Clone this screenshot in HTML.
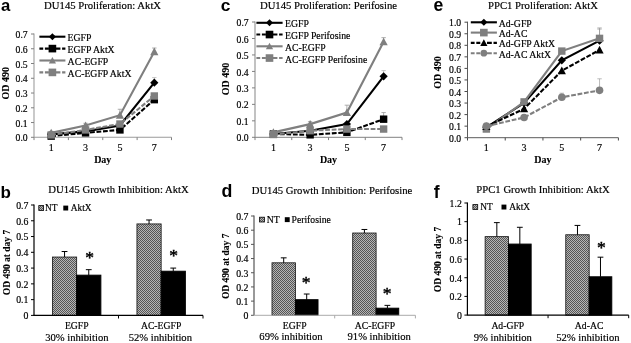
<!DOCTYPE html>
<html><head><meta charset="utf-8"><title>Figure</title>
<style>
html,body{margin:0;padding:0;background:#fff;}
body{width:631px;height:343px;overflow:hidden;font-family:"Liberation Serif",serif;}
svg{display:block;filter:blur(0.3px)}
text{fill:#000;stroke:#000;stroke-width:0.18px}
text[font-weight=bold]{stroke-width:0.08px}
text.pl{stroke:none}
text.st{stroke-width:0.45px}
</style></head><body>
<svg width="631" height="343" viewBox="0 0 631 343">
<rect width="631" height="343" fill="#fff"/>
<defs><pattern id="hatch" width="2" height="2" patternUnits="userSpaceOnUse"><rect width="2" height="2" fill="#b6b6b6"/><rect x="0" y="0" width="1" height="1" fill="#555"/><rect x="1" y="1" width="1" height="1" fill="#555"/></pattern></defs>
<path d="M34 33.5V137.3H171.5" stroke="#9a9a9a" stroke-width="1.05" fill="none"/>
<path d="M31 137.30H34" stroke="#808080" stroke-width="1"/>
<text x="27.70" y="141.40" font-size="9.7" text-anchor="end" font-family='"Liberation Serif", serif' >0.0</text>
<path d="M31 122.54H34" stroke="#808080" stroke-width="1"/>
<text x="27.70" y="126.64" font-size="9.7" text-anchor="end" font-family='"Liberation Serif", serif' >0.1</text>
<path d="M31 107.79H34" stroke="#808080" stroke-width="1"/>
<text x="27.70" y="111.89" font-size="9.7" text-anchor="end" font-family='"Liberation Serif", serif' >0.2</text>
<path d="M31 93.03H34" stroke="#808080" stroke-width="1"/>
<text x="27.70" y="97.13" font-size="9.7" text-anchor="end" font-family='"Liberation Serif", serif' >0.3</text>
<path d="M31 78.27H34" stroke="#808080" stroke-width="1"/>
<text x="27.70" y="82.37" font-size="9.7" text-anchor="end" font-family='"Liberation Serif", serif' >0.4</text>
<path d="M31 63.51H34" stroke="#808080" stroke-width="1"/>
<text x="27.70" y="67.61" font-size="9.7" text-anchor="end" font-family='"Liberation Serif", serif' >0.5</text>
<path d="M31 48.76H34" stroke="#808080" stroke-width="1"/>
<text x="27.70" y="52.86" font-size="9.7" text-anchor="end" font-family='"Liberation Serif", serif' >0.6</text>
<path d="M31 34.00H34" stroke="#808080" stroke-width="1"/>
<text x="27.70" y="38.10" font-size="9.7" text-anchor="end" font-family='"Liberation Serif", serif' >0.7</text>
<path d="M34.00 137.3V140.10000000000002" stroke="#808080" stroke-width="1"/>
<path d="M68.38 137.3V140.10000000000002" stroke="#808080" stroke-width="1"/>
<path d="M102.75 137.3V140.10000000000002" stroke="#808080" stroke-width="1"/>
<path d="M137.12 137.3V140.10000000000002" stroke="#808080" stroke-width="1"/>
<path d="M171.50 137.3V140.10000000000002" stroke="#808080" stroke-width="1"/>
<text x="51.19" y="151.30" font-size="10" text-anchor="middle" font-family='"Liberation Serif", serif' >1</text>
<text x="85.56" y="151.30" font-size="10" text-anchor="middle" font-family='"Liberation Serif", serif' >3</text>
<text x="119.94" y="151.30" font-size="10" text-anchor="middle" font-family='"Liberation Serif", serif' >5</text>
<text x="154.31" y="151.30" font-size="10" text-anchor="middle" font-family='"Liberation Serif", serif' >7</text>
<text x="102.75" y="162.50" font-size="10" text-anchor="middle" font-weight="bold" font-family='"Liberation Serif", serif' >Day</text>
<text transform="translate(9.0,83.2) rotate(-90)" font-size="10" text-anchor="middle" font-weight="bold" font-family='"Liberation Serif", serif'>OD 490</text>
<text x="102.60" y="8.50" font-size="10.7" text-anchor="middle" font-family='"Liberation Serif", serif' >DU145 Proliferation: AktX</text>
<text x="1.00" y="11.10" font-size="16.7" text-anchor="start" font-weight="bold" font-family='"Liberation Sans", sans-serif' class="pl">a</text>
<path d="M154.31 82.70V77.53M152.11 77.53H156.51" stroke="#bbb" stroke-width="0.8" fill="none"/>
<path d="M51.19 134.35L85.56 131.40L119.94 125.49L154.31 82.70" stroke="#000" stroke-width="2.1" fill="none"/>
<path d="M51.19 130.25L55.29 134.35L51.19 138.45L47.09 134.35Z" fill="#000"/>
<path d="M85.56 127.30L89.66 131.40L85.56 135.50L81.46 131.40Z" fill="#000"/>
<path d="M119.94 121.39L124.04 125.49L119.94 129.59L115.84 125.49Z" fill="#000"/>
<path d="M154.31 78.60L158.41 82.70L154.31 86.80L150.21 82.70Z" fill="#000"/>
<path d="M51.19 136.12L85.56 132.87L119.94 129.92L154.31 99.67" stroke="#000" stroke-width="2.1" fill="none" stroke-dasharray="4.8 1.7"/>
<rect x="47.49" y="132.42" width="7.40" height="7.40" fill="#000"/>
<rect x="81.86" y="129.17" width="7.40" height="7.40" fill="#000"/>
<rect x="116.24" y="126.22" width="7.40" height="7.40" fill="#000"/>
<rect x="150.61" y="95.97" width="7.40" height="7.40" fill="#000"/>
<path d="M51.19 132.87V131.40M48.99 131.40H53.39" stroke="#999" stroke-width="0.8" fill="none"/>
<path d="M85.56 125.49V123.28M83.36 123.28H87.76" stroke="#999" stroke-width="0.8" fill="none"/>
<path d="M119.94 115.16V109.26M117.74 109.26H122.14" stroke="#999" stroke-width="0.8" fill="none"/>
<path d="M154.31 51.71V48.02M152.11 48.02H156.51" stroke="#999" stroke-width="0.8" fill="none"/>
<path d="M51.19 132.87L85.56 125.49L119.94 115.16L154.31 51.71" stroke="#7f7f7f" stroke-width="2.1" fill="none"/>
<path d="M51.19 128.77L55.29 136.36L47.09 136.36Z" fill="#7f7f7f"/>
<path d="M85.56 121.39L89.66 128.98L81.46 128.98Z" fill="#7f7f7f"/>
<path d="M119.94 111.06L124.04 118.65L115.84 118.65Z" fill="#7f7f7f"/>
<path d="M154.31 47.61L158.41 55.19L150.21 55.19Z" fill="#7f7f7f"/>
<path d="M51.19 134.94L85.56 129.92L119.94 124.02L154.31 95.98" stroke="#7f7f7f" stroke-width="2.1" fill="none" stroke-dasharray="4.8 1.7"/>
<rect x="47.49" y="131.24" width="7.40" height="7.40" fill="#7f7f7f"/>
<rect x="81.86" y="126.22" width="7.40" height="7.40" fill="#7f7f7f"/>
<rect x="116.24" y="120.32" width="7.40" height="7.40" fill="#7f7f7f"/>
<rect x="150.61" y="92.28" width="7.40" height="7.40" fill="#7f7f7f"/>
<path d="M39.4 36.70H65.4" stroke="#000" stroke-width="2.1" fill="none"/>
<path d="M52.40 33.17L55.93 36.70L52.40 40.23L48.87 36.70Z" fill="#000"/>
<text x="67.60" y="41.20" font-size="9.75" text-anchor="start" font-family='"Liberation Serif", serif' >EGFP</text>
<path d="M39.40 48.60H43.20M44.90 48.60H48.90M55.60 48.60H60.40M62.10 48.60H65.40" stroke="#000" stroke-width="2.1" fill="none"/>
<rect x="48.59" y="44.79" width="7.62" height="7.62" fill="#000"/>
<text x="67.60" y="53.10" font-size="9.75" text-anchor="start" font-family='"Liberation Serif", serif' >EGFP AktX</text>
<path d="M39.4 60.50H65.4" stroke="#7f7f7f" stroke-width="2.1" fill="none"/>
<path d="M52.40 56.89L56.01 63.57L48.79 63.57Z" fill="#7f7f7f"/>
<text x="67.60" y="65.00" font-size="9.75" text-anchor="start" font-family='"Liberation Serif", serif' >AC-EGFP</text>
<path d="M39.40 72.40H43.20M44.90 72.40H48.90M55.60 72.40H60.40M62.10 72.40H65.40" stroke="#7f7f7f" stroke-width="2.1" fill="none"/>
<rect x="48.59" y="68.59" width="7.62" height="7.62" fill="#7f7f7f"/>
<text x="67.60" y="76.90" font-size="9.75" text-anchor="start" font-family='"Liberation Serif", serif' >AC-EGFP AktX</text>
<path d="M255 21.5V137.3H402" stroke="#9a9a9a" stroke-width="1.2" fill="none"/>
<path d="M252 137.30H255" stroke="#808080" stroke-width="1"/>
<text x="248.70" y="141.40" font-size="9.7" text-anchor="end" font-family='"Liberation Serif", serif' >0.0</text>
<path d="M252 120.83H255" stroke="#808080" stroke-width="1"/>
<text x="248.70" y="124.93" font-size="9.7" text-anchor="end" font-family='"Liberation Serif", serif' >0.1</text>
<path d="M252 104.36H255" stroke="#808080" stroke-width="1"/>
<text x="248.70" y="108.46" font-size="9.7" text-anchor="end" font-family='"Liberation Serif", serif' >0.2</text>
<path d="M252 87.89H255" stroke="#808080" stroke-width="1"/>
<text x="248.70" y="91.99" font-size="9.7" text-anchor="end" font-family='"Liberation Serif", serif' >0.3</text>
<path d="M252 71.41H255" stroke="#808080" stroke-width="1"/>
<text x="248.70" y="75.51" font-size="9.7" text-anchor="end" font-family='"Liberation Serif", serif' >0.4</text>
<path d="M252 54.94H255" stroke="#808080" stroke-width="1"/>
<text x="248.70" y="59.04" font-size="9.7" text-anchor="end" font-family='"Liberation Serif", serif' >0.5</text>
<path d="M252 38.47H255" stroke="#808080" stroke-width="1"/>
<text x="248.70" y="42.57" font-size="9.7" text-anchor="end" font-family='"Liberation Serif", serif' >0.6</text>
<path d="M252 22.00H255" stroke="#808080" stroke-width="1"/>
<text x="248.70" y="26.10" font-size="9.7" text-anchor="end" font-family='"Liberation Serif", serif' >0.7</text>
<path d="M255.00 137.3V140.10000000000002" stroke="#808080" stroke-width="1"/>
<path d="M291.75 137.3V140.10000000000002" stroke="#808080" stroke-width="1"/>
<path d="M328.50 137.3V140.10000000000002" stroke="#808080" stroke-width="1"/>
<path d="M365.25 137.3V140.10000000000002" stroke="#808080" stroke-width="1"/>
<path d="M402.00 137.3V140.10000000000002" stroke="#808080" stroke-width="1"/>
<text x="273.38" y="151.30" font-size="10" text-anchor="middle" font-family='"Liberation Serif", serif' >1</text>
<text x="310.12" y="151.30" font-size="10" text-anchor="middle" font-family='"Liberation Serif", serif' >3</text>
<text x="346.88" y="151.30" font-size="10" text-anchor="middle" font-family='"Liberation Serif", serif' >5</text>
<text x="383.62" y="151.30" font-size="10" text-anchor="middle" font-family='"Liberation Serif", serif' >7</text>
<text x="328.50" y="162.50" font-size="10" text-anchor="middle" font-weight="bold" font-family='"Liberation Serif", serif' >Day</text>
<text transform="translate(229,79) rotate(-90)" font-size="10" text-anchor="middle" font-weight="bold" font-family='"Liberation Serif", serif'>OD 490</text>
<text x="328.50" y="8.50" font-size="10.7" text-anchor="middle" font-family='"Liberation Serif", serif' >DU145 Proliferation: Perifosine</text>
<text x="220.70" y="11.20" font-size="17.4" text-anchor="start" font-weight="bold" font-family='"Liberation Sans", sans-serif' class="pl">c</text>
<path d="M383.62 76.36V70.59M381.43 70.59H385.82" stroke="#bbb" stroke-width="0.8" fill="none"/>
<path d="M273.38 134.01L310.12 130.71L346.88 124.12L383.62 76.36" stroke="#000" stroke-width="2.1" fill="none"/>
<path d="M273.38 129.91L277.48 134.01L273.38 138.11L269.27 134.01Z" fill="#000"/>
<path d="M310.12 126.61L314.23 130.71L310.12 134.81L306.02 130.71Z" fill="#000"/>
<path d="M346.88 120.02L350.98 124.12L346.88 128.22L342.77 124.12Z" fill="#000"/>
<path d="M383.62 72.26L387.73 76.36L383.62 80.46L379.52 76.36Z" fill="#000"/>
<path d="M383.62 119.18V112.59M381.43 112.59H385.82" stroke="#999" stroke-width="0.8" fill="none"/>
<path d="M273.38 134.01L310.12 134.83L346.88 132.36L383.62 119.18" stroke="#000" stroke-width="2.1" fill="none" stroke-dasharray="4.8 1.7"/>
<rect x="269.68" y="130.31" width="7.40" height="7.40" fill="#000"/>
<rect x="306.43" y="131.13" width="7.40" height="7.40" fill="#000"/>
<rect x="343.18" y="128.66" width="7.40" height="7.40" fill="#000"/>
<rect x="379.93" y="115.48" width="7.40" height="7.40" fill="#000"/>
<path d="M273.38 132.36V130.71M271.18 130.71H275.57" stroke="#999" stroke-width="0.8" fill="none"/>
<path d="M310.12 124.12V121.65M307.93 121.65H312.32" stroke="#999" stroke-width="0.8" fill="none"/>
<path d="M346.88 112.59V105.18M344.68 105.18H349.07" stroke="#999" stroke-width="0.8" fill="none"/>
<path d="M383.62 41.77V37.65M381.43 37.65H385.82" stroke="#999" stroke-width="0.8" fill="none"/>
<path d="M273.38 132.36L310.12 124.12L346.88 112.59L383.62 41.77" stroke="#7f7f7f" stroke-width="2.1" fill="none"/>
<path d="M273.38 128.26L277.48 135.84L269.27 135.84Z" fill="#7f7f7f"/>
<path d="M310.12 120.02L314.23 127.61L306.02 127.61Z" fill="#7f7f7f"/>
<path d="M346.88 108.49L350.98 116.08L342.77 116.08Z" fill="#7f7f7f"/>
<path d="M383.62 37.67L387.73 45.25L379.52 45.25Z" fill="#7f7f7f"/>
<path d="M273.38 134.50L310.12 130.71L346.88 129.06L383.62 129.06" stroke="#7f7f7f" stroke-width="2.1" fill="none" stroke-dasharray="4.8 1.7"/>
<rect x="269.68" y="130.80" width="7.40" height="7.40" fill="#7f7f7f"/>
<rect x="306.43" y="127.01" width="7.40" height="7.40" fill="#7f7f7f"/>
<rect x="343.18" y="125.36" width="7.40" height="7.40" fill="#7f7f7f"/>
<rect x="379.93" y="125.36" width="7.40" height="7.40" fill="#7f7f7f"/>
<path d="M256.4 22.80H282.6" stroke="#000" stroke-width="2.1" fill="none"/>
<path d="M269.50 19.27L273.03 22.80L269.50 26.33L265.97 22.80Z" fill="#000"/>
<text x="285.00" y="27.30" font-size="9.75" text-anchor="start" font-family='"Liberation Serif", serif' >EGFP</text>
<path d="M256.40 34.55H260.20M261.90 34.55H265.90M272.60 34.55H277.40M279.10 34.55H282.60" stroke="#000" stroke-width="2.1" fill="none"/>
<rect x="265.69" y="30.74" width="7.62" height="7.62" fill="#000"/>
<text x="285.00" y="39.05" font-size="9.75" text-anchor="start" font-family='"Liberation Serif", serif' >EGFP Perifosine</text>
<path d="M256.4 46.30H282.6" stroke="#7f7f7f" stroke-width="2.1" fill="none"/>
<path d="M269.50 42.69L273.11 49.37L265.89 49.37Z" fill="#7f7f7f"/>
<text x="285.00" y="50.80" font-size="9.75" text-anchor="start" font-family='"Liberation Serif", serif' >AC-EGFP</text>
<path d="M256.40 58.05H260.20M261.90 58.05H265.90M272.60 58.05H277.40M279.10 58.05H282.60" stroke="#7f7f7f" stroke-width="2.1" fill="none"/>
<rect x="265.69" y="54.24" width="7.62" height="7.62" fill="#7f7f7f"/>
<text x="285.00" y="62.55" font-size="9.75" text-anchor="start" font-family='"Liberation Serif", serif' >AC-EGFP Perifosine</text>
<path d="M467.5 21.7V137.7H618.4" stroke="#4a4a4a" stroke-width="0.9" fill="none"/>
<path d="M464.5 137.70H467.5" stroke="#4a4a4a" stroke-width="1"/>
<text x="461.20" y="141.80" font-size="9.7" text-anchor="end" font-family='"Liberation Serif", serif' >0.0</text>
<path d="M464.5 126.15H467.5" stroke="#4a4a4a" stroke-width="1"/>
<text x="461.20" y="130.25" font-size="9.7" text-anchor="end" font-family='"Liberation Serif", serif' >0.1</text>
<path d="M464.5 114.60H467.5" stroke="#4a4a4a" stroke-width="1"/>
<text x="461.20" y="118.70" font-size="9.7" text-anchor="end" font-family='"Liberation Serif", serif' >0.2</text>
<path d="M464.5 103.05H467.5" stroke="#4a4a4a" stroke-width="1"/>
<text x="461.20" y="107.15" font-size="9.7" text-anchor="end" font-family='"Liberation Serif", serif' >0.3</text>
<path d="M464.5 91.50H467.5" stroke="#4a4a4a" stroke-width="1"/>
<text x="461.20" y="95.60" font-size="9.7" text-anchor="end" font-family='"Liberation Serif", serif' >0.4</text>
<path d="M464.5 79.95H467.5" stroke="#4a4a4a" stroke-width="1"/>
<text x="461.20" y="84.05" font-size="9.7" text-anchor="end" font-family='"Liberation Serif", serif' >0.5</text>
<path d="M464.5 68.40H467.5" stroke="#4a4a4a" stroke-width="1"/>
<text x="461.20" y="72.50" font-size="9.7" text-anchor="end" font-family='"Liberation Serif", serif' >0.6</text>
<path d="M464.5 56.85H467.5" stroke="#4a4a4a" stroke-width="1"/>
<text x="461.20" y="60.95" font-size="9.7" text-anchor="end" font-family='"Liberation Serif", serif' >0.7</text>
<path d="M464.5 45.30H467.5" stroke="#4a4a4a" stroke-width="1"/>
<text x="461.20" y="49.40" font-size="9.7" text-anchor="end" font-family='"Liberation Serif", serif' >0.8</text>
<path d="M464.5 33.75H467.5" stroke="#4a4a4a" stroke-width="1"/>
<text x="461.20" y="37.85" font-size="9.7" text-anchor="end" font-family='"Liberation Serif", serif' >0.9</text>
<path d="M464.5 22.20H467.5" stroke="#4a4a4a" stroke-width="1"/>
<text x="461.20" y="26.30" font-size="9.7" text-anchor="end" font-family='"Liberation Serif", serif' >1.0</text>
<path d="M467.50 137.7V140.5" stroke="#4a4a4a" stroke-width="1"/>
<path d="M505.23 137.7V140.5" stroke="#4a4a4a" stroke-width="1"/>
<path d="M542.95 137.7V140.5" stroke="#4a4a4a" stroke-width="1"/>
<path d="M580.67 137.7V140.5" stroke="#4a4a4a" stroke-width="1"/>
<path d="M618.40 137.7V140.5" stroke="#4a4a4a" stroke-width="1"/>
<text x="486.36" y="151.30" font-size="10" text-anchor="middle" font-family='"Liberation Serif", serif' >1</text>
<text x="524.09" y="151.30" font-size="10" text-anchor="middle" font-family='"Liberation Serif", serif' >3</text>
<text x="561.81" y="151.30" font-size="10" text-anchor="middle" font-family='"Liberation Serif", serif' >5</text>
<text x="599.54" y="151.30" font-size="10" text-anchor="middle" font-family='"Liberation Serif", serif' >7</text>
<text x="542.95" y="162.50" font-size="10" text-anchor="middle" font-weight="bold" font-family='"Liberation Serif", serif' >Day</text>
<text transform="translate(441.2,72.5) rotate(-90)" font-size="10" text-anchor="middle" font-weight="bold" font-family='"Liberation Serif", serif'>OD 490</text>
<text x="543.00" y="8.50" font-size="10.7" text-anchor="middle" font-family='"Liberation Serif", serif' >PPC1 Proliferation: AktX</text>
<text x="433.60" y="11.40" font-size="17.6" text-anchor="start" font-weight="bold" font-family='"Liberation Sans", sans-serif' class="pl">e</text>
<path d="M599.54 40.68V29.13M597.34 29.13H601.74" stroke="#aaa" stroke-width="0.8" fill="none"/>
<path d="M486.36 127.30L524.09 103.05L561.81 60.31L599.54 40.68" stroke="#000" stroke-width="2.1" fill="none"/>
<path d="M486.36 123.20L490.46 127.30L486.36 131.41L482.26 127.30Z" fill="#000"/>
<path d="M524.09 98.95L528.19 103.05L524.09 107.15L519.99 103.05Z" fill="#000"/>
<path d="M561.81 56.21L565.91 60.31L561.81 64.41L557.71 60.31Z" fill="#000"/>
<path d="M599.54 36.58L603.64 40.68L599.54 44.78L595.44 40.68Z" fill="#000"/>
<path d="M599.54 38.37V27.98M597.34 27.98H601.74" stroke="#999" stroke-width="0.8" fill="none"/>
<path d="M486.36 129.04L524.09 101.89L561.81 51.08L599.54 38.37" stroke="#7f7f7f" stroke-width="2.1" fill="none"/>
<rect x="482.66" y="125.34" width="7.40" height="7.40" fill="#7f7f7f"/>
<rect x="520.39" y="98.19" width="7.40" height="7.40" fill="#7f7f7f"/>
<rect x="558.11" y="47.38" width="7.40" height="7.40" fill="#7f7f7f"/>
<rect x="595.84" y="34.67" width="7.40" height="7.40" fill="#7f7f7f"/>
<path d="M486.36 126.61L524.09 108.82L561.81 70.71L599.54 49.92" stroke="#000" stroke-width="2.1" fill="none" stroke-dasharray="4.8 1.7"/>
<path d="M486.36 122.51L490.46 130.10L482.26 130.10Z" fill="#000"/>
<path d="M524.09 104.72L528.19 112.31L519.99 112.31Z" fill="#000"/>
<path d="M561.81 66.61L565.91 74.20L557.71 74.20Z" fill="#000"/>
<path d="M599.54 45.82L603.64 53.41L595.44 53.41Z" fill="#000"/>
<path d="M561.81 97.28V93.23M559.61 93.23H564.01" stroke="#aaa" stroke-width="0.8" fill="none"/>
<path d="M599.54 90.34V78.79M597.34 78.79H601.74" stroke="#aaa" stroke-width="0.8" fill="none"/>
<path d="M486.36 126.15L524.09 117.49L561.81 97.28L599.54 90.34" stroke="#7f7f7f" stroke-width="2.1" fill="none" stroke-dasharray="4.8 1.7"/>
<circle cx="486.36" cy="126.15" r="3.80" fill="#7f7f7f"/>
<circle cx="524.09" cy="117.49" r="3.80" fill="#7f7f7f"/>
<circle cx="561.81" cy="97.28" r="3.80" fill="#7f7f7f"/>
<circle cx="599.54" cy="90.34" r="3.80" fill="#7f7f7f"/>
<path d="M470.8 22.30H496.9" stroke="#000" stroke-width="2.1" fill="none"/>
<path d="M483.85 18.77L487.38 22.30L483.85 25.83L480.32 22.30Z" fill="#000"/>
<text x="498.70" y="26.80" font-size="9.75" text-anchor="start" font-family='"Liberation Serif", serif' >Ad-GFP</text>
<path d="M470.8 32.60H496.9" stroke="#7f7f7f" stroke-width="2.1" fill="none"/>
<rect x="480.04" y="28.79" width="7.62" height="7.62" fill="#7f7f7f"/>
<text x="498.70" y="37.10" font-size="9.75" text-anchor="start" font-family='"Liberation Serif", serif' >Ad-AC</text>
<path d="M470.80 42.90H474.60M476.30 42.90H480.30M487.00 42.90H491.80M493.50 42.90H496.90" stroke="#000" stroke-width="2.1" fill="none"/>
<path d="M483.85 39.29L487.46 45.97L480.24 45.97Z" fill="#000"/>
<text x="498.70" y="47.40" font-size="9.75" text-anchor="start" font-family='"Liberation Serif", serif' >Ad-GFP AktX</text>
<path d="M470.80 53.20H474.60M476.30 53.20H480.30M487.00 53.20H491.80M493.50 53.20H496.90" stroke="#7f7f7f" stroke-width="2.1" fill="none"/>
<circle cx="483.85" cy="53.20" r="3.34" fill="#7f7f7f"/>
<text x="498.70" y="57.70" font-size="9.75" text-anchor="start" font-family='"Liberation Serif", serif' >Ad-AC AktX</text>
<path d="M34 204.5V315.4" stroke="#000" stroke-width="1.2" fill="none"/>
<path d="M31 315.40H34" stroke="#000" stroke-width="1"/>
<text x="28.40" y="319.20" font-size="9.8" text-anchor="end" font-family='"Liberation Serif", serif' >0</text>
<path d="M31 299.63H34" stroke="#000" stroke-width="1"/>
<text x="28.40" y="303.43" font-size="9.8" text-anchor="end" font-family='"Liberation Serif", serif' >0.1</text>
<path d="M31 283.86H34" stroke="#000" stroke-width="1"/>
<text x="28.40" y="287.66" font-size="9.8" text-anchor="end" font-family='"Liberation Serif", serif' >0.2</text>
<path d="M31 268.09H34" stroke="#000" stroke-width="1"/>
<text x="28.40" y="271.89" font-size="9.8" text-anchor="end" font-family='"Liberation Serif", serif' >0.3</text>
<path d="M31 252.31H34" stroke="#000" stroke-width="1"/>
<text x="28.40" y="256.11" font-size="9.8" text-anchor="end" font-family='"Liberation Serif", serif' >0.4</text>
<path d="M31 236.54H34" stroke="#000" stroke-width="1"/>
<text x="28.40" y="240.34" font-size="9.8" text-anchor="end" font-family='"Liberation Serif", serif' >0.5</text>
<path d="M31 220.77H34" stroke="#000" stroke-width="1"/>
<text x="28.40" y="224.57" font-size="9.8" text-anchor="end" font-family='"Liberation Serif", serif' >0.6</text>
<path d="M31 205.00H34" stroke="#000" stroke-width="1"/>
<text x="28.40" y="208.80" font-size="9.8" text-anchor="end" font-family='"Liberation Serif", serif' >0.7</text>
<rect x="52.45" y="257.05" width="24.20" height="58.35" fill="url(#hatch)" stroke="#1a1a1a" stroke-width="0.85"/>
<path d="M64.55 257.05V251.53M61.65 251.53H67.45" stroke="#000" stroke-width="1" fill="none"/>
<rect x="76.65" y="275.18" width="24.20" height="40.22" fill="#000" stroke="#000" stroke-width="1"/>
<path d="M88.75 275.18V269.66M85.85 269.66H91.65" stroke="#000" stroke-width="1" fill="none"/>
<text x="89.50" y="263.30" font-size="17.5" text-anchor="middle" font-family='"Liberation Serif", serif' class="st">*</text>
<text x="76.80" y="328.70" font-size="9.7" text-anchor="middle" font-family='"Liberation Serif", serif' >EGFP</text>
<text x="76.90" y="340.50" font-size="10.6" text-anchor="middle" font-family='"Liberation Serif", serif' >30% inhibition</text>
<rect x="136.95" y="223.93" width="24.20" height="91.47" fill="url(#hatch)" stroke="#1a1a1a" stroke-width="0.85"/>
<path d="M149.05 223.93V219.98M146.15 219.98H151.95" stroke="#000" stroke-width="1" fill="none"/>
<rect x="161.15" y="271.24" width="24.20" height="44.16" fill="#000" stroke="#000" stroke-width="1"/>
<path d="M173.25 271.24V268.09M170.35 268.09H176.15" stroke="#000" stroke-width="1" fill="none"/>
<text x="173.50" y="261.30" font-size="17.5" text-anchor="middle" font-family='"Liberation Serif", serif' class="st">*</text>
<text x="161.10" y="328.70" font-size="9.7" text-anchor="middle" font-family='"Liberation Serif", serif' >AC-EGFP</text>
<text x="160.30" y="340.50" font-size="10.6" text-anchor="middle" font-family='"Liberation Serif", serif' >52% inhibition</text>
<path d="M33.5 315.4H203" stroke="#000" stroke-width="1.2" fill="none"/>
<path d="M118.50 315.4V318.5" stroke="#000" stroke-width="1"/>
<path d="M203.00 315.4V318.5" stroke="#000" stroke-width="1"/>
<text transform="translate(9.9,262.5) rotate(-90)" font-size="9.5" text-anchor="middle" font-weight="bold" font-family='"Liberation Serif", serif'>OD 490 at day 7</text>
<text x="118.50" y="192.60" font-size="10.7" text-anchor="middle" font-family='"Liberation Serif", serif' >DU145 Growth Inhibition: AktX</text>
<text x="0.60" y="198.20" font-size="17" text-anchor="start" font-weight="bold" font-family='"Liberation Sans", sans-serif' class="pl">b</text>
<rect x="38.8" y="205.6" width="4.8" height="4.8" fill="url(#hatch)" stroke="#000" stroke-width="0.8"/>
<text x="45.00" y="211.20" font-size="9.4" text-anchor="start" font-family='"Liberation Serif", serif' >NT</text>
<rect x="63.3" y="205.6" width="4.9" height="4.9" fill="#000"/>
<text x="70.80" y="211.20" font-size="9.4" text-anchor="start" font-family='"Liberation Serif", serif' >AktX</text>
<path d="M254 215.5V315.3" stroke="#555" stroke-width="1.2" fill="none"/>
<path d="M251 315.30H254" stroke="#555" stroke-width="1"/>
<text x="248.40" y="319.10" font-size="9.8" text-anchor="end" font-family='"Liberation Serif", serif' >0</text>
<path d="M251 301.11H254" stroke="#555" stroke-width="1"/>
<text x="248.40" y="304.91" font-size="9.8" text-anchor="end" font-family='"Liberation Serif", serif' >0.1</text>
<path d="M251 286.93H254" stroke="#555" stroke-width="1"/>
<text x="248.40" y="290.73" font-size="9.8" text-anchor="end" font-family='"Liberation Serif", serif' >0.2</text>
<path d="M251 272.74H254" stroke="#555" stroke-width="1"/>
<text x="248.40" y="276.54" font-size="9.8" text-anchor="end" font-family='"Liberation Serif", serif' >0.3</text>
<path d="M251 258.56H254" stroke="#555" stroke-width="1"/>
<text x="248.40" y="262.36" font-size="9.8" text-anchor="end" font-family='"Liberation Serif", serif' >0.4</text>
<path d="M251 244.37H254" stroke="#555" stroke-width="1"/>
<text x="248.40" y="248.17" font-size="9.8" text-anchor="end" font-family='"Liberation Serif", serif' >0.5</text>
<path d="M251 230.19H254" stroke="#555" stroke-width="1"/>
<text x="248.40" y="233.99" font-size="9.8" text-anchor="end" font-family='"Liberation Serif", serif' >0.6</text>
<path d="M251 216.00H254" stroke="#555" stroke-width="1"/>
<text x="248.40" y="219.80" font-size="9.8" text-anchor="end" font-family='"Liberation Serif", serif' >0.7</text>
<rect x="272.00" y="262.81" width="23.40" height="52.49" fill="url(#hatch)" stroke="#1a1a1a" stroke-width="0.85"/>
<path d="M283.70 262.81V257.85M280.80 257.85H286.60" stroke="#000" stroke-width="1" fill="none"/>
<rect x="295.40" y="299.70" width="22.60" height="15.60" fill="#000" stroke="#000" stroke-width="1"/>
<path d="M306.70 299.70V294.02M303.80 294.02H309.60" stroke="#000" stroke-width="1" fill="none"/>
<text x="306.00" y="288.30" font-size="17.5" text-anchor="middle" font-family='"Liberation Serif", serif' class="st">*</text>
<text x="294.70" y="328.60" font-size="9.7" text-anchor="middle" font-family='"Liberation Serif", serif' >EGFP</text>
<text x="291.00" y="340.40" font-size="10.6" text-anchor="middle" font-family='"Liberation Serif", serif' >69% inhibition</text>
<rect x="352.70" y="233.02" width="23.40" height="82.28" fill="url(#hatch)" stroke="#1a1a1a" stroke-width="0.85"/>
<path d="M364.40 233.02V229.48M361.50 229.48H367.30" stroke="#000" stroke-width="1" fill="none"/>
<rect x="376.10" y="308.21" width="22.60" height="7.09" fill="#000" stroke="#000" stroke-width="1"/>
<path d="M387.40 308.21V305.37M384.50 305.37H390.30" stroke="#000" stroke-width="1" fill="none"/>
<text x="387.00" y="299.30" font-size="17.5" text-anchor="middle" font-family='"Liberation Serif", serif' class="st">*</text>
<text x="374.90" y="328.60" font-size="9.7" text-anchor="middle" font-family='"Liberation Serif", serif' >AC-EGFP</text>
<text x="379.20" y="340.40" font-size="10.6" text-anchor="middle" font-family='"Liberation Serif", serif' >91% inhibition</text>
<path d="M253.5 315.3H415.4" stroke="#aaa" stroke-width="1.0" fill="none"/>
<path d="M334.70 315.3V318.40000000000003" stroke="#aaa" stroke-width="1"/>
<path d="M415.40 315.3V318.40000000000003" stroke="#aaa" stroke-width="1"/>
<text transform="translate(228.6,266.3) rotate(-90)" font-size="9.5" text-anchor="middle" font-weight="bold" font-family='"Liberation Serif", serif'>OD 490 at day 7</text>
<text x="332.00" y="193.50" font-size="10.7" text-anchor="middle" font-family='"Liberation Serif", serif' >DU145 Growth Inhibition: Perifosine</text>
<text x="221.60" y="197.40" font-size="17.8" text-anchor="start" font-weight="bold" font-family='"Liberation Sans", sans-serif' class="pl">d</text>
<rect x="259.59999999999997" y="217.2" width="4.8" height="4.8" fill="url(#hatch)" stroke="#000" stroke-width="0.8"/>
<text x="266.70" y="222.80" font-size="9.7" text-anchor="start" font-family='"Liberation Serif", serif' >NT</text>
<rect x="284.79999999999995" y="217.2" width="4.9" height="4.9" fill="#000"/>
<text x="291.50" y="222.80" font-size="9.7" text-anchor="start" font-family='"Liberation Serif", serif' >Perifosine</text>
<path d="M467.4 202.5V315.1" stroke="#000" stroke-width="1.2" fill="none"/>
<path d="M464.4 315.10H467.4" stroke="#000" stroke-width="1"/>
<text x="461.80" y="318.90" font-size="9.8" text-anchor="end" font-family='"Liberation Serif", serif' >0</text>
<path d="M464.4 296.42H467.4" stroke="#000" stroke-width="1"/>
<text x="461.80" y="300.22" font-size="9.8" text-anchor="end" font-family='"Liberation Serif", serif' >0.2</text>
<path d="M464.4 277.73H467.4" stroke="#000" stroke-width="1"/>
<text x="461.80" y="281.53" font-size="9.8" text-anchor="end" font-family='"Liberation Serif", serif' >0.4</text>
<path d="M464.4 259.05H467.4" stroke="#000" stroke-width="1"/>
<text x="461.80" y="262.85" font-size="9.8" text-anchor="end" font-family='"Liberation Serif", serif' >0.6</text>
<path d="M464.4 240.37H467.4" stroke="#000" stroke-width="1"/>
<text x="461.80" y="244.17" font-size="9.8" text-anchor="end" font-family='"Liberation Serif", serif' >0.8</text>
<path d="M464.4 221.68H467.4" stroke="#000" stroke-width="1"/>
<text x="461.80" y="225.48" font-size="9.8" text-anchor="end" font-family='"Liberation Serif", serif' >1</text>
<path d="M464.4 203.00H467.4" stroke="#000" stroke-width="1"/>
<text x="461.80" y="206.80" font-size="9.8" text-anchor="end" font-family='"Liberation Serif", serif' >1.2</text>
<rect x="485.13" y="236.63" width="23.40" height="78.47" fill="url(#hatch)" stroke="#1a1a1a" stroke-width="0.85"/>
<path d="M496.83 236.63V222.62M493.93 222.62H499.73" stroke="#000" stroke-width="1" fill="none"/>
<rect x="508.53" y="244.10" width="22.60" height="71.00" fill="#000" stroke="#000" stroke-width="1"/>
<path d="M519.83 244.10V227.29M516.93 227.29H522.73" stroke="#000" stroke-width="1" fill="none"/>
<text x="507.80" y="328.70" font-size="9.7" text-anchor="middle" font-family='"Liberation Serif", serif' >Ad-GFP</text>
<text x="502.80" y="340.50" font-size="10.6" text-anchor="middle" font-family='"Liberation Serif", serif' >9% inhibition</text>
<rect x="565.77" y="234.76" width="23.40" height="80.34" fill="url(#hatch)" stroke="#1a1a1a" stroke-width="0.85"/>
<path d="M577.47 234.76V225.42M574.57 225.42H580.37" stroke="#000" stroke-width="1" fill="none"/>
<rect x="589.17" y="276.80" width="22.60" height="38.30" fill="#000" stroke="#000" stroke-width="1"/>
<path d="M600.47 276.80V257.18M597.57 257.18H603.37" stroke="#000" stroke-width="1" fill="none"/>
<text x="601.30" y="253.30" font-size="17.5" text-anchor="middle" font-family='"Liberation Serif", serif' class="st">*</text>
<text x="589.10" y="328.70" font-size="9.7" text-anchor="middle" font-family='"Liberation Serif", serif' >Ad-AC</text>
<text x="587.90" y="340.50" font-size="10.6" text-anchor="middle" font-family='"Liberation Serif", serif' >52% inhibition</text>
<path d="M466.9 315.1H628.7" stroke="#000" stroke-width="1.2" fill="none"/>
<path d="M548.05 315.1V318.20000000000005" stroke="#000" stroke-width="1"/>
<path d="M628.70 315.1V318.20000000000005" stroke="#000" stroke-width="1"/>
<text transform="translate(441.2,259.5) rotate(-90)" font-size="9.5" text-anchor="middle" font-weight="bold" font-family='"Liberation Serif", serif'>OD 490 at day 7</text>
<text x="543.00" y="192.60" font-size="10.7" text-anchor="middle" font-family='"Liberation Serif", serif' >PPC1 Growth Inhibition: AktX</text>
<text x="433.70" y="198.00" font-size="17.6" text-anchor="start" font-weight="bold" font-family='"Liberation Sans", sans-serif' class="pl">f</text>
<rect x="472.9" y="204.6" width="4.8" height="4.8" fill="url(#hatch)" stroke="#000" stroke-width="0.8"/>
<text x="480.30" y="210.20" font-size="9.4" text-anchor="start" font-family='"Liberation Serif", serif' >NT</text>
<rect x="501.5" y="204.6" width="4.9" height="4.9" fill="#000"/>
<text x="509.30" y="210.20" font-size="9.4" text-anchor="start" font-family='"Liberation Serif", serif' >AktX</text>
</svg>
</body></html>
